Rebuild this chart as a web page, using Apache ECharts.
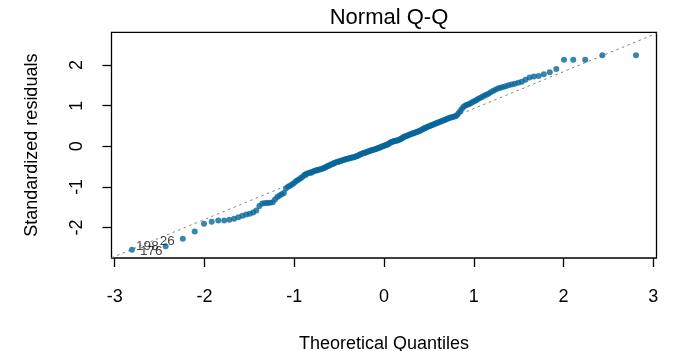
<!DOCTYPE html>
<html>
<head>
<meta charset="utf-8">
<title>Normal Q-Q</title>
<script src="https://cdn.jsdelivr.net/npm/echarts@6/dist/echarts.min.js"></script>
<style>
  html, body { margin: 0; padding: 0; background: #fff; }
  #chart { width: 674px; height: 351px; }
</style>
</head>
<body>
<div id="chart"></div>
<script>
// Theoretical normal quantiles (n = 200), ascending
const theoreticalQuantiles = [
  -2.807,-2.432,-2.241,-2.108,-2.005,-1.919,-1.846,-1.780,-1.722,-1.669,
  -1.621,-1.576,-1.534,-1.495,-1.457,-1.422,-1.388,-1.356,-1.325,-1.296,
  -1.268,-1.240,-1.214,-1.188,-1.163,-1.139,-1.115,-1.092,-1.069,-1.047,
  -1.026,-1.005,-0.984,-0.964,-0.944,-0.925,-0.906,-0.887,-0.868,-0.850,
  -0.832,-0.815,-0.798,-0.780,-0.764,-0.747,-0.731,-0.714,-0.698,-0.683,
  -0.667,-0.651,-0.636,-0.620,-0.605,-0.590,-0.576,-0.561,-0.546,-0.532,
  -0.517,-0.503,-0.489,-0.475,-0.461,-0.447,-0.433,-0.419,-0.406,-0.392,
  -0.379,-0.365,-0.352,-0.339,-0.325,-0.312,-0.299,-0.286,-0.273,-0.260,
  -0.247,-0.234,-0.221,-0.208,-0.196,-0.183,-0.170,-0.157,-0.145,-0.132,
  -0.119,-0.107,-0.094,-0.082,-0.069,-0.056,-0.044,-0.031,-0.019,-0.006,
  0.006,0.019,0.031,0.044,0.056,0.069,0.082,0.094,0.107,0.119,
  0.132,0.145,0.157,0.170,0.183,0.196,0.208,0.221,0.234,0.247,
  0.260,0.273,0.286,0.299,0.312,0.325,0.339,0.352,0.365,0.379,
  0.392,0.406,0.419,0.433,0.447,0.461,0.475,0.489,0.503,0.517,
  0.532,0.546,0.561,0.576,0.590,0.605,0.620,0.636,0.651,0.667,
  0.683,0.698,0.714,0.731,0.747,0.764,0.780,0.798,0.815,0.832,
  0.850,0.868,0.887,0.906,0.925,0.944,0.964,0.984,1.005,1.026,
  1.047,1.069,1.092,1.115,1.139,1.163,1.188,1.214,1.240,1.268,
  1.296,1.325,1.356,1.388,1.422,1.457,1.495,1.534,1.576,1.621,
  1.669,1.722,1.780,1.846,1.919,2.005,2.108,2.241,2.432,2.807
];

// Sorted standardized residuals
const standardizedResiduals = [
  -2.545,-2.464,-2.275,-2.096,-1.905,-1.86,-1.83,-1.825,-1.81,-1.785,
  -1.75,-1.71,-1.68,-1.66,-1.63,-1.58,-1.47,-1.41,-1.40,-1.40,
  -1.39,-1.38,-1.31,-1.25,-1.21,-1.18,-1.15,-1.04,-1.00,-0.97,
  -0.94,-0.91,-0.87,-0.84,-0.81,-0.78,-0.75,-0.71,-0.685,-0.67,
  -0.655,-0.645,-0.63,-0.615,-0.60,-0.59,-0.58,-0.57,-0.56,-0.55,
  -0.535,-0.52,-0.50,-0.48,-0.465,-0.45,-0.435,-0.42,-0.405,-0.395,
  -0.385,-0.375,-0.365,-0.355,-0.345,-0.335,-0.325,-0.315,-0.31,-0.30,
  -0.29,-0.285,-0.275,-0.27,-0.26,-0.25,-0.24,-0.225,-0.21,-0.20,
  -0.185,-0.175,-0.165,-0.155,-0.145,-0.135,-0.125,-0.115,-0.105,-0.095,
  -0.085,-0.08,-0.07,-0.06,-0.05,-0.04,-0.03,-0.015,-0.005,0.005,
  0.02,0.025,0.035,0.05,0.07,0.09,0.10,0.11,0.12,0.13,
  0.135,0.14,0.15,0.165,0.175,0.19,0.21,0.225,0.24,0.25,
  0.26,0.275,0.285,0.30,0.31,0.32,0.33,0.34,0.35,0.365,
  0.375,0.39,0.405,0.42,0.44,0.45,0.465,0.48,0.495,0.505,
  0.52,0.53,0.545,0.56,0.57,0.585,0.60,0.61,0.625,0.64,
  0.65,0.67,0.685,0.70,0.71,0.72,0.73,0.74,0.77,0.82,
  0.87,0.92,0.97,1.00,1.02,1.035,1.06,1.08,1.11,1.13,
  1.16,1.185,1.21,1.24,1.265,1.29,1.33,1.36,1.39,1.42,
  1.44,1.46,1.48,1.50,1.52,1.54,1.565,1.59,1.64,1.69,
  1.72,1.73,1.77,1.82,1.90,2.13,2.13,2.13,2.24,2.24
];

// Observation ids shown next to the most extreme residuals (index into the sorted arrays)
const idIndex = [0, 1, 2];
const idText = ['176', '198', '26'];

// Reference line through the quartiles
const lineIntercept = 0.017;
const lineSlope = 0.91;

const xTicks = [-3, -2, -1, 0, 1, 2, 3];
const yTicks = [-2, -1, 0, 1, 2];
const xRange = [-3.035, 3.035];
const yRange = [-2.751, 2.805];

const pointColor = '#08679a';
const fontFamily = '"Liberation Sans", Arial, sans-serif';

// label placement for each id (relative to its point)
const idLabelStyle = [
  { position: 'right', distance: 5, offset: [0, 2] },
  { position: 'left', distance: 4, offset: [0, 0] },
  { position: 'left', distance: 5, offset: [0, 2.5] }
];

const points = theoreticalQuantiles.map((q, i) => {
  const k = idIndex.indexOf(i);
  const item = { value: [q, standardizedResiduals[i]] };
  if (k >= 0) {
    item.label = Object.assign({
      show: true,
      formatter: idText[k],
      fontSize: 13.5,
      color: '#111',
      fontFamily: fontFamily
    }, idLabelStyle[k]);
  }
  return item;
});

const refLine = xRange.map(x => [x, lineIntercept + lineSlope * x]);

const chart = echarts.init(document.getElementById('chart'), null, { renderer: 'canvas' });
chart.setOption({
  animation: false,
  backgroundColor: '#ffffff',
  textStyle: { fontFamily: fontFamily },
  title: {
    text: 'Normal Q-Q',
    left: 384,
    top: 2,
    textAlign: 'center',
    textStyle: { fontSize: 22, fontWeight: 'normal', color: '#000', fontFamily: fontFamily }
  },
  grid: {
    left: 111.5, right: 17.5, top: 32.3, bottom: 93,
    outerBoundsMode: 'none',
    containLabel: false,
    show: true, borderColor: '#000', borderWidth: 1.3, backgroundColor: 'transparent'
  },
  xAxis: {
    type: 'value',
    min: xRange[0], max: xRange[1],
    name: 'Theoretical Quantiles',
    nameLocation: 'middle',
    nameGap: 77,
    nameTextStyle: { fontSize: 18, color: '#000', fontFamily: fontFamily },
    axisLine: { show: false, onZero: false },
    axisTick: { show: true, inside: false, length: 9, customValues: xTicks, lineStyle: { color: '#000', width: 1.3 } },
    axisLabel: { show: true, customValues: xTicks, fontSize: 18, color: '#000', margin: 30, fontFamily: fontFamily },
    splitLine: { show: false }
  },
  yAxis: {
    type: 'value',
    min: yRange[0], max: yRange[1],
    name: 'Standardized residuals',
    nameLocation: 'middle',
    nameRotate: 90,
    nameGap: 70,
    nameTextStyle: { fontSize: 18, color: '#000', fontFamily: fontFamily },
    axisLine: { show: false, onZero: false },
    axisTick: { show: true, inside: false, length: 9, customValues: yTicks, lineStyle: { color: '#000', width: 1.3 } },
    axisLabel: { show: true, customValues: yTicks, rotate: 90, fontSize: 18, color: '#000', margin: 25, fontFamily: fontFamily },
    splitLine: { show: false }
  },
  series: [
    {
      type: 'line',
      data: refLine,
      symbol: 'none',
      silent: true,
      lineStyle: { color: '#808080', width: 1, type: [2.5, 3.5] },
      z: 1
    },
    {
      type: 'scatter',
      data: points,
      symbol: 'circle',
      symbolSize: 6,
      itemStyle: { color: pointColor },
      z: 2
    }
  ]
});
</script>
</body>
</html>
